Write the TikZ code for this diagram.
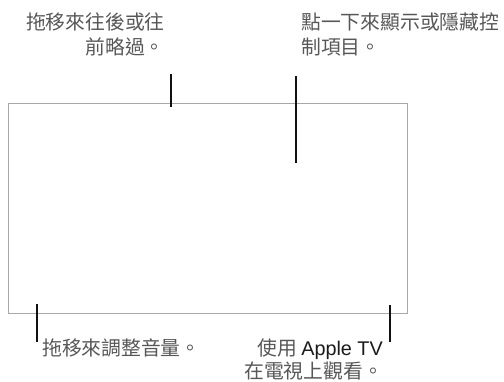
\documentclass[tikz,border=0pt]{standalone}
\usepackage{fontspec}
\newfontfamily\cjk{Noto Sans CJK TC}
\newfontfamily\latn{Liberation Sans}
\usetikzlibrary{positioning}
\definecolor{frame}{HTML}{A8A8A8}
\definecolor{lead}{HTML}{111111}
\definecolor{txt}{HTML}{575757}
\definecolor{brand}{HTML}{1A1A1A}
\tikzset{
  screen/.style={draw=frame, line width=0.9pt, inner sep=0pt,
                 minimum width=399pt, minimum height=210pt},
  leadln/.style={draw=lead, line width=1.1pt},
  note/.style={font=\cjk\fontsize{19.8}{25}\selectfont, text=txt,
               inner sep=0pt},
}

\begin{document}
\begin{tikzpicture}[x=1pt,y=-1pt]
\useasboundingbox (0,0) rectangle (504,381);
\node[screen, anchor=north west] (tv) at (8,103) {};

% callout texts
\node[note, anchor=north east, align=right] (seek) at (165,13)
  {拖移來往後或往\\前略過。};
\node[note, anchor=north west, align=left] (ctrl) at (301,13)
  {點一下來顯示或隱藏控\\制項目。};
\node[note, anchor=north west] (vol) at (42,339) {拖移來調整音量。};
\node[note, anchor=north east, align=right,
      font=\cjk\fontsize{19.8}{23}\selectfont] (airplay) at (383,339)
  {使用 {\latn\color{brand}Apple TV}\\在電視上觀看。};

% leader lines
\coordinate (seek-a) at (171,74);   \coordinate (seek-b) at (171,107);
\coordinate (ctrl-a) at (296,76);   \coordinate (ctrl-b) at (296,163);
\coordinate (vol-a)  at (37,304);   \coordinate (vol-b)  at (37,342);
\coordinate (air-a)  at (390,305);  \coordinate (air-b)  at (390,342);
\draw[leadln] (seek-a) -- (seek-b);
\draw[leadln] (ctrl-a) -- (ctrl-b);
\draw[leadln] (vol-a) -- (vol-b);
\draw[leadln] (air-a) -- (air-b);
\end{tikzpicture}
\end{document}
